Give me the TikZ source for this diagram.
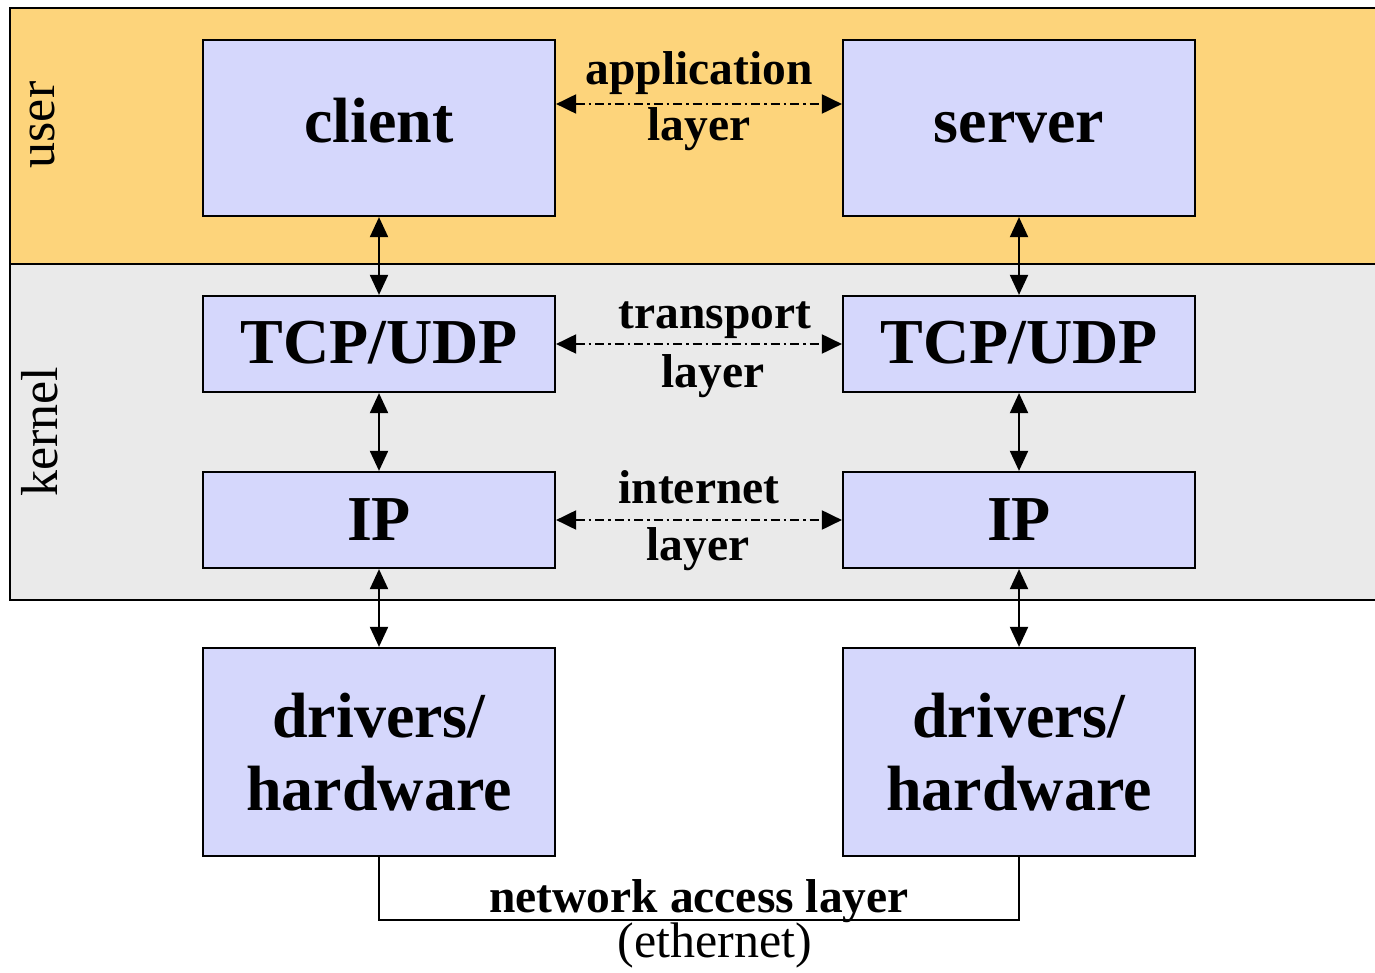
\documentclass[tikz,border=0pt]{standalone}
\usepackage{fontspec}
\setmainfont{Liberation Serif}
\usetikzlibrary{arrows.meta}
\definecolor{useryellow}{HTML}{FDD47B}
\definecolor{kernelgray}{HTML}{EAEAEA}
\definecolor{boxblue}{HTML}{D5D7FC}
\tikzset{
  layerbox/.style={draw, line width=2.2pt, fill=boxblue, minimum width=352pt, inner sep=0pt,
    font=\fontsize{64}{73}\selectfont\bfseries, align=center},
  bandline/.style={line width=2.5pt},
  vlink/.style={line width=2pt, {Triangle[length=20pt,width=18pt]}-{Triangle[length=20pt,width=18pt]}},
  hlink/.style={line width=2pt, dash pattern=on 9pt off 4pt on 2.5pt off 4pt,
    {Triangle[length=20pt,width=19pt]}-{Triangle[length=20pt,width=19pt]}},
  lbl/.style={anchor=base, inner sep=0pt, font=\fontsize{47.5}{55}\selectfont\bfseries},
  plain/.style={anchor=base, inner sep=0pt, font=\fontsize{52}{60}\selectfont},
}
\begin{document}
\begin{tikzpicture}[x=1pt,y=-1pt]
\useasboundingbox (0,0) rectangle (1375,973);
\fill[white] (0,0) rectangle (1375,973);
% bands
\fill[useryellow] (10,8) rectangle (1375,264);
\fill[kernelgray] (10,264) rectangle (1375,600);
\draw[bandline] (1375,8) -- (10,8) -- (10,600) -- (1375,600);
\draw[bandline] (10,264) -- (1375,264);
\node[plain, rotate=90] (user) at (54,125) {user};
\node[plain, rotate=90] (kernel) at (57,432) {kernel};
% boxes
\node[layerbox, minimum height=176pt, text height=30pt, text depth=0pt] (client) at (379,128) {client};
\node[layerbox, minimum height=176pt, text height=30pt, text depth=0pt] (server) at (1019,128) {server};
\node[layerbox, minimum height=96pt, text height=38pt, text depth=0pt] (tcpL) at (379,344) {TCP/UDP};
\node[layerbox, minimum height=96pt, text height=38pt, text depth=0pt] (tcpR) at (1019,344) {TCP/UDP};
\node[layerbox, minimum height=96pt, text height=40pt, text depth=0pt] (ipL) at (379,520) {IP};
\node[layerbox, minimum height=96pt, text height=40pt, text depth=0pt] (ipR) at (1019,520) {IP};
\node[layerbox, minimum height=208pt] (drvL) at (379,752) {drivers/\\hardware};
\node[layerbox, minimum height=208pt] (drvR) at (1019,752) {drivers/\\hardware};
% vertical links
\draw[vlink] (client.south) -- (tcpL.north);
\draw[vlink] (tcpL.south) -- (ipL.north);
\draw[vlink] (ipL.south) -- (drvL.north);
\draw[vlink] (server.south) -- (tcpR.north);
\draw[vlink] (tcpR.south) -- (ipR.north);
\draw[vlink] (ipR.south) -- (drvR.north);
% horizontal peer links
\draw[hlink] ([yshift=24pt]client.east) -- ([yshift=24pt]server.west);
\draw[hlink] (tcpL.east) -- (tcpR.west);
\draw[hlink] (ipL.east) -- (ipR.west);
% labels
\node[lbl] (appA) at (699,85) {application};
\node[lbl] (appB) at (699,141) {layer};
\node[lbl] (trA) at (715,329) {transport};
\node[lbl] (trB) at (713,387) {layer};
\node[lbl] (inA) at (699,503) {internet};
\node[lbl] (inB) at (698,560) {layer};
% network access
\coordinate (netL) at (379,920);
\coordinate (netR) at (1019,920);
\draw[line width=2pt] (drvL.south) -- (netL) -- (netR) -- (drvR.south);
\node[lbl] (net) at (699,912) {network access layer};
\node[plain, font=\fontsize{50}{58}\selectfont] (eth) at (715,957) {(ethernet)};
\end{tikzpicture}
\end{document}
